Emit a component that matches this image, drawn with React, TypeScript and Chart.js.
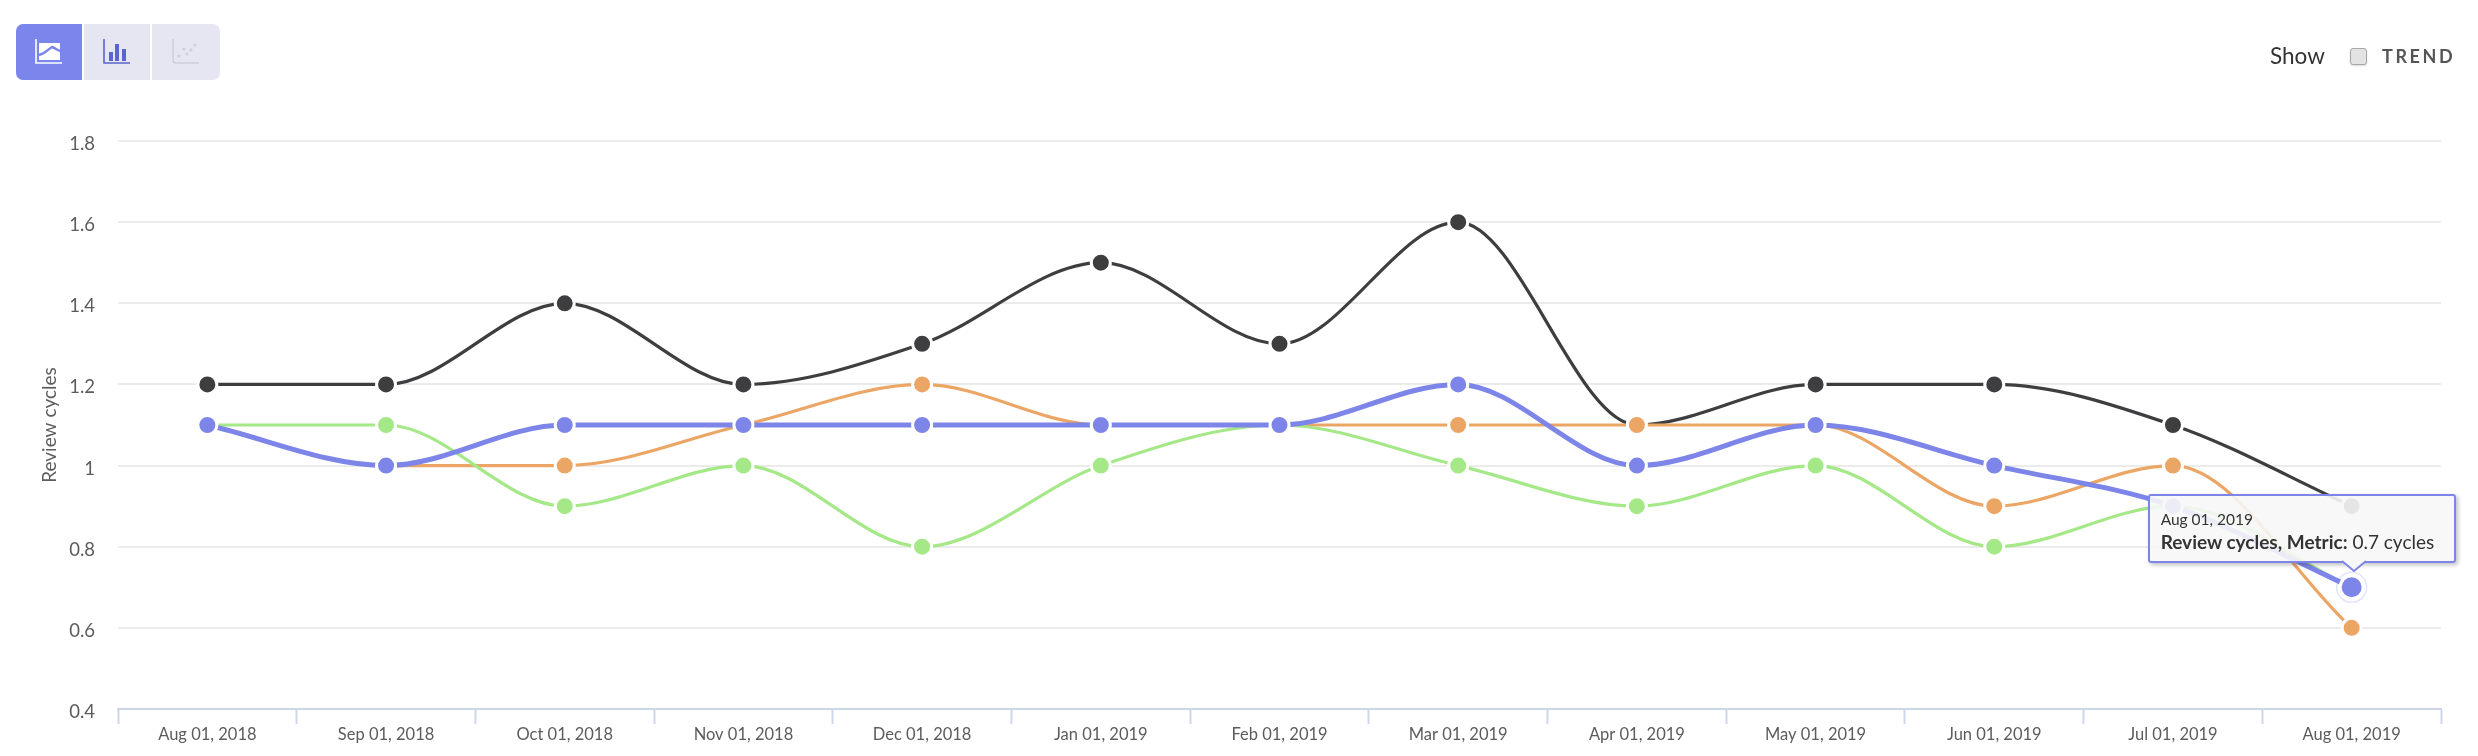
import React, { useEffect, useRef } from "react";
import { Chart, registerables } from "chart.js";

Chart.register(...registerables);

const categories = [
  "Aug 01, 2018", "Sep 01, 2018", "Oct 01, 2018", "Nov 01, 2018", "Dec 01, 2018",
  "Jan 01, 2019", "Feb 01, 2019", "Mar 01, 2019", "Apr 01, 2019", "May 01, 2019",
  "Jun 01, 2019", "Jul 01, 2019", "Aug 01, 2019",
];
const blackSeries = [1.2, 1.2, 1.4, 1.2, 1.3, 1.5, 1.3, 1.6, 1.1, 1.2, 1.2, 1.1, 0.9];
const orangeSeries = [1.1, 1.0, 1.0, 1.1, 1.2, 1.1, 1.1, 1.1, 1.1, 1.1, 0.9, 1.0, 0.6];
const greenSeries = [1.1, 1.1, 0.9, 1.0, 0.8, 1.0, 1.1, 1.0, 0.9, 1.0, 0.8, 0.9, 0.7];
const metricSeries = [1.1, 1.0, 1.1, 1.1, 1.1, 1.1, 1.1, 1.2, 1.0, 1.1, 1.0, 0.9, 0.7];

const FONT = "Lato, 'Open Sans', sans-serif";
const BLUE = "#7d86e8";
const ACTIVE_INDEX = 12;

const line = (label: string, data: number[], color: string, width: number, order: number, active = false) => ({
  label,
  data,
  order,
  borderColor: color,
  backgroundColor: color,
  borderWidth: width,
  cubicInterpolationMode: "monotone" as const,
  pointBackgroundColor: color,
  pointBorderColor: "#ffffff",
  pointBorderWidth: 3,
  pointRadius: (ctx: any) => (active && ctx.dataIndex === ACTIVE_INDEX ? 11.5 : 9.5),
  clip: false as const,
});

const haloPlugin = {
  id: "halo",
  afterDatasetsDraw(chart: any) {
    const pt = chart.getDatasetMeta(3).data[ACTIVE_INDEX];
    const c = chart.ctx;
    c.save();
    c.beginPath();
    c.arc(pt.x, pt.y, 15, 0, Math.PI * 2);
    c.strokeStyle = "rgba(125,134,232,0.22)";
    c.lineWidth = 1.5;
    c.stroke();
    c.restore();
  },
};

export default function App() {
  const canvasRef = useRef<HTMLCanvasElement>(null);
  const tipRef = useRef<HTMLDivElement>(null);

  useEffect(() => {
    const chart = new Chart(canvasRef.current!, {
      type: "line",
      plugins: [haloPlugin],
      data: {
        labels: categories,
        datasets: [
          line("Black", blackSeries, "#3e3e40", 3.2, 3),
          line("Orange", orangeSeries, "#eba564", 3.2, 2),
          line("Green", greenSeries, "#a5e887", 3.2, 1),
          line("Review cycles, Metric", metricSeries, BLUE, 5, 0, true),
        ],
      },
      options: {
        animation: false,
        responsive: false,
        events: [],
        layout: { padding: { top: 141, right: 37, bottom: 0, left: 0 } },
        plugins: { legend: { display: false }, tooltip: { enabled: false } },
        scales: {
          x: {
            type: "category",
            offset: true,
            afterFit: (s: any) => { s.height = 47; },
            grid: {
              offset: true,
              drawOnChartArea: false,
              drawTicks: true,
              tickLength: 15,
              tickColor: "#ccd6eb",
              tickWidth: 2,
            },
            border: { color: "#ccd6eb", width: 2 },
            ticks: {
              color: "#5c5c5c",
              font: { family: FONT, size: 16.5 },
              padding: 1,
              maxRotation: 0,
              autoSkip: false,
            },
          },
          y: {
            min: 0.4,
            max: 1.8,
            afterFit: (s: any) => { s.width = 118; },
            border: { display: false },
            grid: {
              drawTicks: false,
              lineWidth: 2,
              color: (ctx: any) => (ctx.tick && ctx.tick.value < 0.5 ? "rgba(0,0,0,0)" : "#ebebeb"),
            },
            title: {
              display: true,
              text: "Review cycles",
              color: "#5c5c5c",
              font: { family: FONT, size: 19 },
              padding: { top: 38, bottom: 0 },
            },
            ticks: {
              stepSize: 0.2,
              color: "#5c5c5c",
              // the blank first line sets the labels 3px below their grid lines
              font: { family: FONT, size: 18.5, lineHeight: "6px" },
              padding: 23,
              callback: (v: any) => ["", String(Number(Number(v).toFixed(1)))],
            },
          },
        },
      },
    } as any);

    const pt = chart.getDatasetMeta(3).data[ACTIVE_INDEX];
    if (tipRef.current) {
      tipRef.current.style.left = `${pt.x - 202}px`;
      tipRef.current.style.top = `${pt.y - 93}px`;
    }
    return () => chart.destroy();
  }, []);

  const btn = (bg: string, w: number, radius: string, child: React.ReactNode) => (
    <div style={{ width: w, height: 56, background: bg, borderRadius: radius, display: "flex", alignItems: "center", justifyContent: "center" }}>
      {child}
    </div>
  );

  return (
    <div style={{ position: "fixed", left: 0, top: 0, width: 2478, height: 756, background: "#fff", overflow: "hidden", fontFamily: FONT }}>
      <canvas ref={canvasRef} width={2478} height={756} style={{ position: "absolute", left: 0, top: 0, display: "block" }} />

      <div style={{ position: "absolute", left: 16, top: 24, display: "flex", gap: 2 }}>
        {btn("#7b86ec", 66, "7px 0 0 7px",
          <svg width="28" height="26" viewBox="0 0 28 26">
            <path d="M1 0V24H27" fill="none" stroke="#fff" strokeWidth="1.6" />
            <path d="M4 4H25V21H4Z" fill="#fff" />
            <path d="M4 16C10 15 12 11 17 8C20 9 22 11 25 12" fill="none" stroke="#7b86ec" strokeWidth="2.5" />
          </svg>)}
        {btn("#e6e6f2", 66, "0",
          <svg width="28" height="26" viewBox="0 0 28 26">
            <path d="M1 0V24H27" fill="none" stroke="#5a66cc" strokeWidth="1.6" />
            <rect x="6" y="13" width="4" height="9" fill="#5a66cc" />
            <rect x="12" y="5" width="4" height="17" fill="#5a66cc" />
            <rect x="19" y="10" width="4" height="12" fill="#5a66cc" />
          </svg>)}
        {btn("#e6e6f2", 68, "0 7px 7px 0",
          <svg width="28" height="26" viewBox="0 0 28 26">
            <path d="M1 0V21Q1 24 4 24H27" fill="none" stroke="#cfcfdc" strokeWidth="1.6" />
            <circle cx="7" cy="17" r="1.6" fill="#cfcfdc" />
            <circle cx="12" cy="10" r="1.6" fill="#cfcfdc" />
            <circle cx="15" cy="15" r="1.6" fill="#cfcfdc" />
            <circle cx="19" cy="11" r="1.6" fill="#cfcfdc" />
            <circle cx="23" cy="6" r="1.6" fill="#cfcfdc" />
          </svg>)}
      </div>

      <div style={{ position: "absolute", left: 2270, top: 42, fontSize: 22.5, lineHeight: "28px", color: "#333" }}>Show</div>
      <div style={{ position: "absolute", left: 2350, top: 48, width: 15, height: 15, background: "#e3e3e3", border: "1.5px solid #a8a8a8", borderRadius: 3, boxShadow: "0 1px 2px rgba(0,0,0,0.15)" }} />
      <div style={{ position: "absolute", left: 2382, top: 45, fontSize: 18, lineHeight: "22px", fontWeight: 700, letterSpacing: 2.6, color: "#555" }}>TREND</div>

      <div ref={tipRef} style={{ position: "absolute", width: 302, height: 65, marginLeft: -2, paddingLeft: 2, boxSizing: "content-box", background: "rgba(247,247,247,0.9)", border: "2px solid #7d86e8", borderRadius: 3, boxShadow: "2px 2px 4px rgba(0,0,0,0.25)", color: "#333" }}>
        <div style={{ position: "absolute", left: 11, top: 13, fontSize: 15.5, lineHeight: "20px", whiteSpace: "nowrap" }}>{categories[ACTIVE_INDEX]}</div>
        <div style={{ position: "absolute", left: 11, top: 34, fontSize: 19, lineHeight: "24px", whiteSpace: "nowrap" }}>
          <b>Review cycles, Metric:</b> {metricSeries[ACTIVE_INDEX]} cycles
        </div>
        <svg width="24" height="12" style={{ position: "absolute", left: 192, top: 65, overflow: "visible" }}>
          <path d="M0 0L12 10L24 0" fill="#f7f7f7" stroke="#7d86e8" strokeWidth="2" />
        </svg>
      </div>
    </div>
  );
}
